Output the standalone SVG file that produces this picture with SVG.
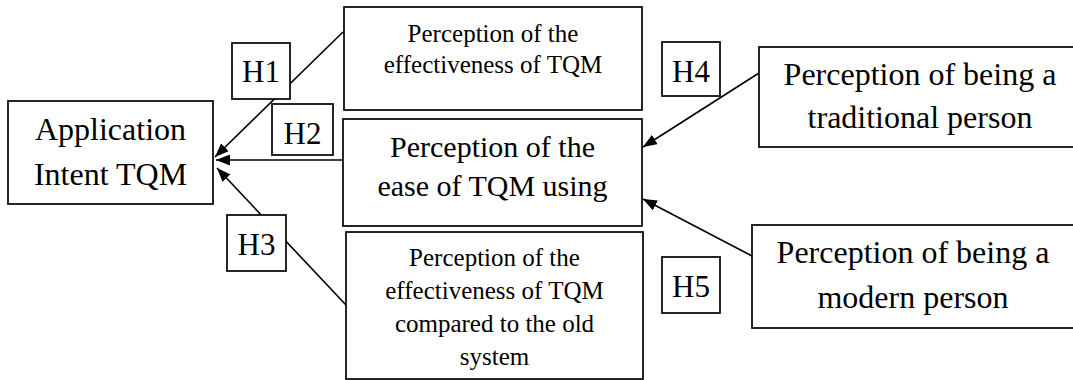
<svg xmlns="http://www.w3.org/2000/svg" width="1073" height="380" viewBox="0 0 1073 380">
  <style>
    .box { fill: #ffffff; stroke: #000000; stroke-width: 1.7; }
    .txt { font-family: "Liberation Serif", "Times New Roman", serif; fill: #000000; text-anchor: middle; }
    .big { font-size: 32px; }
    .mid { font-size: 30px; }
    .sm { font-size: 25px; }
    .lbl { font-size: 31px; }
    .edge { stroke: #000000; stroke-width: 1.6; fill: none; }
  </style>
  <defs>
    <marker id="arrow" viewBox="0 0 14 11" refX="14" refY="5.5" markerWidth="14" markerHeight="11" markerUnits="userSpaceOnUse" orient="auto">
      <path d="M0,0 L14,5.5 L0,11 Z" fill="#000000"/>
    </marker>
  </defs>

  <rect width="1073" height="380" fill="#ffffff"/>

  <!-- connectors, drawn first so the hypothesis labels sit on top -->
  <g id="connectors">
    <line class="edge" x1="343" y1="32" x2="215" y2="157" marker-end="url(#arrow)"/>
    <line class="edge" x1="343" y1="160" x2="216" y2="160" marker-end="url(#arrow)"/>
    <line class="edge" x1="346" y1="305" x2="217" y2="168" marker-end="url(#arrow)"/>
    <line class="edge" x1="759" y1="73" x2="643" y2="147" marker-end="url(#arrow)"/>
    <line class="edge" x1="752" y1="256" x2="643" y2="199" marker-end="url(#arrow)"/>
  </g>

  <g id="node-intent">
    <rect class="box" x="8" y="101" width="205" height="103"/>
    <text class="txt big" x="110.5" y="140">Application</text>
    <text class="txt big" x="110.5" y="185">Intent TQM</text>
  </g>

  <g id="node-effectiveness">
    <rect class="box" x="344" y="7" width="298" height="103"/>
    <text class="txt sm" x="493" y="42">Perception of the</text>
    <text class="txt sm" x="493" y="73">effectiveness of TQM</text>
  </g>

  <g id="node-ease">
    <rect class="box" x="343" y="119" width="299" height="107"/>
    <text class="txt mid" x="492.5" y="157">Perception of the</text>
    <text class="txt mid" x="492.5" y="196">ease of TQM using</text>
  </g>

  <g id="node-compared">
    <rect class="box" x="346" y="232" width="297" height="147"/>
    <text class="txt sm" x="494.5" y="266">Perception of the</text>
    <text class="txt sm" x="494.5" y="299">effectiveness of TQM</text>
    <text class="txt sm" x="494.5" y="332">compared to the old</text>
    <text class="txt sm" x="494.5" y="365">system</text>
  </g>

  <g id="node-traditional">
    <rect class="box" x="759" y="47" width="330" height="100"/>
    <text class="txt big" x="920" y="85">Perception of being a</text>
    <text class="txt big" x="920" y="128">traditional person</text>
  </g>

  <g id="node-modern">
    <rect class="box" x="752" y="225" width="340" height="103"/>
    <text class="txt big" x="913" y="263">Perception of being a</text>
    <text class="txt big" x="913" y="308">modern person</text>
  </g>

  <g id="label-h1">
    <rect class="box" x="232" y="43" width="58" height="56"/>
    <text class="txt lbl" x="261" y="82">H1</text>
  </g>
  <g id="label-h2">
    <rect class="box" x="272" y="104" width="61" height="51"/>
    <text class="txt lbl" x="302.5" y="144">H2</text>
  </g>
  <g id="label-h3">
    <rect class="box" x="227" y="215" width="59" height="56"/>
    <text class="txt lbl" x="256.5" y="255">H3</text>
  </g>
  <g id="label-h4">
    <rect class="box" x="662" y="42" width="58" height="54"/>
    <text class="txt lbl" x="691" y="82">H4</text>
  </g>
  <g id="label-h5">
    <rect class="box" x="662" y="257" width="58" height="56"/>
    <text class="txt lbl" x="691" y="297">H5</text>
  </g>
</svg>
